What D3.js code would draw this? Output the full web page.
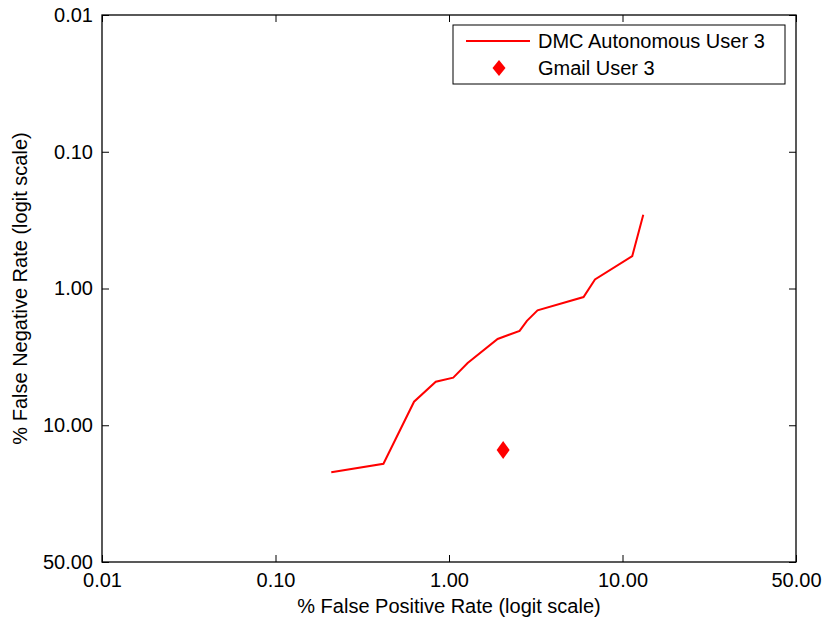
<!DOCTYPE html>
<html>
<head>
<meta charset="utf-8">
<script src="https://cdn.jsdelivr.net/npm/d3@7"></script>
<style>
  body { margin: 0; background: #fff; }
  svg text { font-family: "Liberation Sans", Arial, sans-serif; }
</style>
</head>
<body>
<svg id="chart"></svg>
<script>
// values in percent
const tickValues = [0.01, 0.1, 1, 10, 50];
const dmcFalsePos = [0.21, 0.42, 0.63, 0.84, 1.06, 1.29, 1.94, 2.61, 2.88, 3.32, 6.09, 7.06, 11.17, 12.63];
const dmcFalseNeg = [19.1, 17.1, 6.85, 4.92, 4.60, 3.60, 2.39, 2.08, 1.75, 1.46, 1.16, 0.86, 0.58, 0.29];
const gmailFalsePos = [2.09];
const gmailFalseNeg = [14.2];
const seriesNames = ['DMC Autonomous User 3', 'Gmail User 3'];

const width = 827, height = 624;
const margin = {top: 15, right: 31, bottom: 62, left: 102};
const innerWidth = width - margin.left - margin.right;
const innerHeight = height - margin.top - margin.bottom;

const logit = p => Math.log((p / 100) / (1 - p / 100));

const svg = d3.select('#chart')
    .attr('width', width)
    .attr('height', height);

const chart = svg.append('g')
    .attr('transform', `translate(${margin.left}, ${margin.top})`);

// ticks sit evenly along each axis, data placed in logit space between them
const xscale = d3.scaleLinear()
    .domain(tickValues.map(logit))
    .range(tickValues.map((d, i) => i * innerWidth / (tickValues.length - 1)));

const yscale = d3.scaleLinear()
    .domain(tickValues.map(logit))
    .range(tickValues.map((d, i) => i * innerHeight / (tickValues.length - 1)));

const fmt = d3.format('.2f');
const tickLen = 7;

const xaxis = d3.axisBottom(xscale)
    .tickValues(tickValues.map(logit))
    .tickFormat((d, i) => fmt(tickValues[i]))
    .tickSizeInner(-tickLen)
    .tickSizeOuter(0)
    .tickPadding(11);

const xaxisTop = d3.axisTop(xscale)
    .tickValues(tickValues.map(logit))
    .tickFormat('')
    .tickSizeInner(-tickLen)
    .tickSizeOuter(0);

const yaxis = d3.axisLeft(yscale)
    .tickValues(tickValues.map(logit))
    .tickFormat((d, i) => fmt(tickValues[i]))
    .tickSizeInner(-tickLen)
    .tickSizeOuter(0)
    .tickPadding(9);

const yaxisRight = d3.axisRight(yscale)
    .tickValues(tickValues.map(logit))
    .tickFormat('')
    .tickSizeInner(-tickLen)
    .tickSizeOuter(0);

const axisGroups = [
    chart.append('g').attr('transform', `translate(0, ${innerHeight})`).call(xaxis),
    chart.append('g').call(xaxisTop),
    chart.append('g').call(yaxis),
    chart.append('g').attr('transform', `translate(${innerWidth}, 0)`).call(yaxisRight)
];
axisGroups.forEach(g => {
    g.select('.domain').remove();
    g.selectAll('line').attr('stroke', '#000');
    g.selectAll('text')
        .attr('fill', '#000')
        .style('font-size', '20px');
});

chart.append('rect')
    .attr('width', innerWidth)
    .attr('height', innerHeight)
    .attr('fill', 'none')
    .attr('stroke', '#000')
    .attr('stroke-width', 1.3);

// axis labels
svg.append('text')
    .style('font-size', '20px')
    .attr('x', margin.left + innerWidth / 2)
    .attr('y', 613)
    .attr('text-anchor', 'middle')
    .text('% False Positive Rate (logit scale)');

svg.append('text')
    .style('font-size', '20px')
    .attr('transform', `rotate(-90)`)
    .attr('x', -margin.top - innerHeight / 2)
    .attr('y', 27)
    .attr('text-anchor', 'middle')
    .text('% False Negative Rate (logit scale)');

// series
const dmcData = dmcFalsePos.map((d, i) => ({fp: d, fn: dmcFalseNeg[i]}));
const gmailData = gmailFalsePos.map((d, i) => ({fp: d, fn: gmailFalseNeg[i]}));

const line = d3.line()
    .x(d => xscale(logit(d.fp)))
    .y(d => yscale(logit(d.fn)));

chart.append('path')
    .attr('d', line(dmcData))
    .attr('fill', 'none')
    .attr('stroke', '#ff0000')
    .attr('stroke-width', 2);

const diamond = (w, h) => `M0,${-h/2}L${w/2},0L0,${h/2}L${-w/2},0Z`;

chart.selectAll('.gmail')
    .data(gmailData)
    .join('path')
    .attr('class', 'gmail')
    .attr('transform', d => `translate(${xscale(logit(d.fp))}, ${yscale(logit(d.fn))})`)
    .attr('d', diamond(13, 18))
    .attr('fill', '#ff0000');

// legend
const legend = svg.append('g')
    .attr('transform', 'translate(453, 25)');

legend.append('rect')
    .attr('width', 332)
    .attr('height', 59)
    .attr('fill', '#fff')
    .attr('stroke', '#000')
    .attr('stroke-width', 1);

legend.append('line')
    .attr('x1', 13).attr('x2', 77)
    .attr('y1', 16).attr('y2', 16)
    .attr('stroke', '#ff0000')
    .attr('stroke-width', 2);

legend.append('path')
    .attr('transform', 'translate(46, 43)')
    .attr('d', diamond(13, 16))
    .attr('fill', '#ff0000');

legend.selectAll('.label')
    .data(seriesNames)
    .join('text')
    .attr('class', 'label')
    .attr('x', 85)
    .attr('y', (d, i) => 23 + i * 27)
    .style('font-size', '20px')
    .text(d => d);
</script>
</body>
</html>
